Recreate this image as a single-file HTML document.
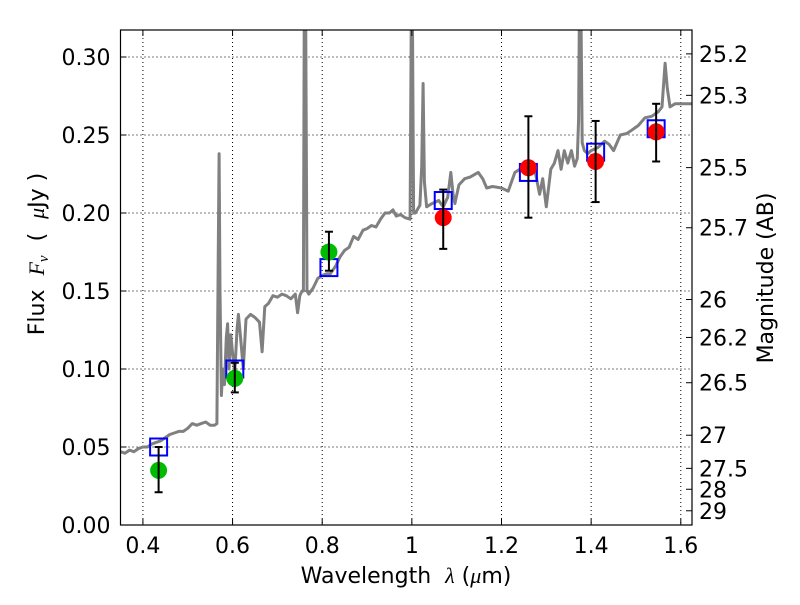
<!DOCTYPE html>
<html><head><meta charset="utf-8"><style>
body{margin:0;background:#fff}
svg text{font-family:"DejaVu Sans","Liberation Sans",sans-serif;fill:#000}
</style></head><body>
<svg id="chart" width="800" height="600" viewBox="0 0 800 600" xmlns="http://www.w3.org/2000/svg">
<rect x="0" y="0" width="800" height="600" fill="#fff"/>
<g id="grid"></g>
<g id="spec"></g>
<g id="marks"></g>
<rect x="120.5" y="30" width="571.5" height="495" fill="none" stroke="#000" stroke-width="1.2"/>
<g id="axes"></g>
<text x="406" y="583" font-size="22" text-anchor="middle">Wavelength&#160;&#160;<tspan font-style="italic" font-family="Liberation Serif">λ</tspan> (<tspan font-style="italic" font-family="Liberation Serif">μ</tspan>m)</text>
<text transform="translate(44,254) rotate(-90)" font-size="22" text-anchor="middle">Flux&#160;&#160;<tspan font-style="italic" font-family="Liberation Serif">F</tspan><tspan font-style="italic" font-family="Liberation Serif" font-size="15" dy="4">ν</tspan><tspan dy="-4">&#160;&#160;(&#160;&#160;</tspan><tspan font-style="italic" font-family="Liberation Serif">μ</tspan>Jy )</text>
<text transform="translate(773,278) rotate(-90)" font-size="22" text-anchor="middle">Magnitude (AB)</text>
</svg>
<script>
const xTicks=[0.4,0.6,0.8,1.0,1.2,1.4,1.6];
const xTickLabels=["0.4","0.6","0.8","1","1.2","1.4","1.6"];
const yTicks=[0,0.05,0.10,0.15,0.20,0.25,0.30];
const yTickLabels=["0.00","0.05","0.10","0.15","0.20","0.25","0.30"];
const magTicks=[25.2,25.3,25.5,25.7,26,26.2,26.5,27,27.5,28,29];
const magLabels=["25.2","25.3","25.5","25.7","26","26.2","26.5","27","27.5","28","29"];
const specWave=[0.35,0.36,0.37,0.38,0.39,0.40,0.41,0.42,0.43,0.44,0.45,0.46,0.47,0.48,0.49,0.50,0.51,0.52,0.53,0.54,0.55,0.56,0.565,0.568,0.570,0.572,0.575,0.578,0.582,0.586,0.589,0.592,0.596,0.600,0.605,0.610,0.613,0.618,0.624,0.630,0.640,0.650,0.660,0.666,0.672,0.680,0.690,0.700,0.710,0.720,0.730,0.740,0.745,0.750,0.755,0.758,0.760,0.763,0.766,0.770,0.780,0.790,0.800,0.810,0.818,0.830,0.840,0.850,0.860,0.870,0.880,0.891,0.900,0.910,0.920,0.930,0.940,0.950,0.958,0.965,0.975,0.985,0.996,0.999,1.001,1.004,1.008,1.012,1.018,1.022,1.025,1.028,1.033,1.045,1.060,1.070,1.080,1.087,1.092,1.096,1.105,1.118,1.130,1.148,1.158,1.167,1.180,1.200,1.215,1.230,1.252,1.274,1.285,1.292,1.300,1.310,1.318,1.326,1.333,1.340,1.348,1.356,1.363,1.369,1.372,1.374,1.377,1.380,1.385,1.392,1.400,1.415,1.430,1.440,1.450,1.465,1.480,1.490,1.505,1.520,1.535,1.550,1.558,1.565,1.570,1.576,1.587,1.600,1.625];
const specFlux=[0.047,0.046,0.048,0.047,0.049,0.050,0.050,0.052,0.053,0.054,0.056,0.058,0.059,0.060,0.060,0.062,0.065,0.064,0.065,0.066,0.064,0.064,0.065,0.17,0.238,0.15,0.083,0.10,0.090,0.120,0.129,0.100,0.122,0.110,0.098,0.125,0.135,0.120,0.100,0.132,0.135,0.133,0.130,0.111,0.140,0.142,0.147,0.146,0.148,0.147,0.145,0.148,0.136,0.147,0.150,0.150,0.34,0.34,0.150,0.148,0.152,0.158,0.160,0.161,0.161,0.166,0.172,0.176,0.178,0.185,0.183,0.189,0.190,0.192,0.191,0.196,0.200,0.200,0.202,0.198,0.199,0.197,0.196,0.34,0.34,0.200,0.200,0.202,0.205,0.23,0.283,0.22,0.204,0.206,0.208,0.204,0.210,0.226,0.212,0.206,0.218,0.222,0.223,0.226,0.222,0.216,0.217,0.216,0.214,0.226,0.230,0.228,0.212,0.222,0.204,0.228,0.232,0.240,0.228,0.240,0.232,0.240,0.230,0.235,0.26,0.34,0.34,0.245,0.240,0.238,0.240,0.242,0.246,0.244,0.240,0.250,0.251,0.253,0.256,0.261,0.262,0.265,0.268,0.296,0.280,0.268,0.270,0.270,0.270];
const photWave=[0.435,0.605,0.815,1.07,1.26,1.41,1.545];
const photFlux=[0.035,0.094,0.175,0.197,0.229,0.233,0.252];
const photErrLo=[0.021,0.085,0.163,0.177,0.197,0.207,0.233];
const photErrHi=[0.050,0.104,0.188,0.215,0.262,0.259,0.270];
const photColor=["#00bb00","#00bb00","#00bb00","#ff0000","#ff0000","#ff0000","#ff0000"];
const modelFlux=[0.050,0.100,0.165,0.208,0.226,0.239,0.254];

const X0=120.5,X1=692,Y0=525,Y1=30,xmin=0.35,xmax=1.625,ymin=0,ymax=0.3173;
const sx=v=>X0+(v-xmin)/(xmax-xmin)*(X1-X0);
const sy=v=>Y0-(v-ymin)/(ymax-ymin)*(Y0-Y1);
const NS="http://www.w3.org/2000/svg";
function mk(tag,attrs,parent){const e=document.createElementNS(NS,tag);for(const k in attrs)e.setAttribute(k,attrs[k]);parent.appendChild(e);return e;}
const grid=document.getElementById('grid'),axes=document.getElementById('axes'),spec=document.getElementById('spec'),marks=document.getElementById('marks');
xTicks.forEach((t,i)=>{const x=sx(t);
 const g=mk('line',{x1:x,x2:x,y1:Y1,y2:Y0,stroke:'#000','stroke-width':1,'stroke-dasharray':'1,3'},grid);
 
 
 mk('line',{x1:x,x2:x,y1:Y0,y2:Y0-6,stroke:'#000'},axes);
 mk('line',{x1:x,x2:x,y1:Y1,y2:Y1+6,stroke:'#000'},axes);
 const tx=mk('text',{x:x,y:Y0+28,'font-size':22,'text-anchor':'middle'},axes);tx.textContent=xTickLabels[i];
 
 
});
yTicks.forEach((t,i)=>{const y=sy(t);
 const g=mk('line',{x1:X0,x2:X1,y1:y,y2:y,stroke:'#000','stroke-width':1,'stroke-dasharray':'1,3'},grid);
 
 
 mk('line',{x1:X0,x2:X0+6,y1:y,y2:y,stroke:'#000'},axes);
 const tx=mk('text',{x:X0-10,y:y+8,'font-size':22,'text-anchor':'end'},axes);tx.textContent=yTickLabels[i];
 
 
});
magTicks.forEach((m,i)=>{const f=Math.pow(10,(23.9-m)/2.5);const y=sy(f);
 mk('line',{x1:X1,x2:X1-6,y1:y,y2:y,stroke:'#000'},axes);
 const tx=mk('text',{x:X1+7,y:y+8,'font-size':22,'text-anchor':'start'},axes);tx.textContent=magLabels[i];
 
 
});
const clip=mk('clipPath',{id:'pc'},document.getElementById('chart'));mk('rect',{x:X0,y:Y1,width:X1-X0,height:Y0-Y1},clip);
spec.setAttribute('clip-path','url(#pc)');
const pl=mk('polyline',{points:specWave.map((w,i)=>sx(w).toFixed(1)+','+sy(specFlux[i]).toFixed(1)).join(' '),fill:'none',stroke:'#808080','stroke-width':3,'stroke-linejoin':'round'},spec);


photWave.forEach((w,i)=>{const x=sx(w);
 const sq=mk('rect',{x:x-8.5,y:sy(modelFlux[i])-8.5,width:17,height:17,fill:'none',stroke:'#0000ff','stroke-width':2},marks);
 
 
 const c=mk('circle',{cx:x,cy:sy(photFlux[i]),r:8.5,fill:photColor[i]},marks);
 
 
 const e=mk('g',{stroke:'#000','stroke-width':2},marks);
 
 
 mk('line',{x1:x,x2:x,y1:sy(photErrLo[i]),y2:sy(photErrHi[i])},e);
 mk('line',{x1:x-4,x2:x+4,y1:sy(photErrLo[i]),y2:sy(photErrLo[i])},e);
 mk('line',{x1:x-4,x2:x+4,y1:sy(photErrHi[i]),y2:sy(photErrHi[i])},e);
});
</script>
</body></html>
